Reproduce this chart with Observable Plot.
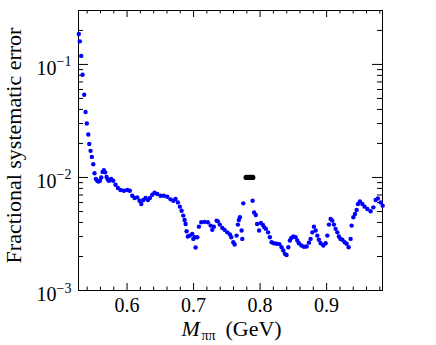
<!DOCTYPE html>
<html><head><meta charset="utf-8">
<script src="https://cdn.jsdelivr.net/npm/d3@7"></script>
<script src="https://cdn.jsdelivr.net/npm/@observablehq/plot@0.6"></script>
<style>body{margin:0;background:#fff}</style>
</head><body><div id="chart"></div>
<script>
const mass = [0.5275,0.5290,0.5311,0.5331,0.5356,0.5376,0.5395,0.5417,0.5432,0.5451,
0.5471,0.5492,0.5511,0.5531,0.5552,0.5571,0.5591,0.5612,0.5632,0.5651,
0.5672,0.5692,0.5710,0.5726,0.5744,0.5762,0.5792,0.5827,0.5862,0.5902,
0.5952,0.6003,0.6042,0.6078,0.6113,0.6153,0.6188,0.6214,0.6244,0.6278,
0.6313,0.6343,0.6379,0.6414,0.6454,0.6504,0.6553,0.6605,0.6654,0.6695,
0.6729,0.6764,0.6794,0.6820,0.6845,0.6865,0.6880,0.6895,0.6914,0.6944,
0.6980,0.6996,0.7015,0.7030,0.7056,0.7080,0.7116,0.7165,0.7215,0.7256,
0.7281,0.7305,0.7346,0.7365,0.7395,0.7432,0.7466,0.7507,0.7546,0.7567,
0.7597,0.7617,0.7647,0.7666,0.7681,0.7696,0.7722,0.7732,0.7747,0.7887,
0.7910,0.7935,0.7955,0.7985,0.8012,0.8042,0.8063,0.8087,0.8120,0.8147,
0.8173,0.8207,0.8248,0.8289,0.8323,0.8349,0.8373,0.8398,0.8424,0.8448,
0.8469,0.8499,0.8534,0.8559,0.8583,0.8620,0.8659,0.8699,0.8734,0.8759,
0.8785,0.8809,0.8835,0.8860,0.8884,0.8910,0.8950,0.8985,0.9011,0.9035,
0.9060,0.9086,0.9110,0.9135,0.9161,0.9185,0.9208,0.9236,0.9271,0.9301,
0.9331,0.9361,0.9376,0.9402,0.9426,0.9451,0.9471,0.9501,0.9537,0.9571,
0.9612,0.9662,0.9702,0.9737,0.9771,0.9812,0.9842];
const err = [0.186,0.160,0.119,0.081,0.054,0.038,0.030,0.024,0.0198,0.0172,
0.0152,0.0131,0.0109,0.0097,0.00935,0.0092,0.00935,0.0100,0.0112,0.0116,
0.0111,0.0101,0.0096,0.00935,0.0095,0.0097,0.00935,0.00862,0.00806,0.00774,
0.00763,0.00774,0.00763,0.00690,0.00658,0.00667,0.00623,0.00582,0.00632,0.00658,
0.00632,0.00658,0.00704,0.00733,0.00714,0.00690,0.00690,0.00676,0.00640,0.00623,
0.00645,0.00602,0.00552,0.00508,0.00460,0.00421,0.00388,0.00334,0.00300,0.00306,
0.00317,0.00286,0.00296,0.00240,0.00296,0.00367,0.00401,0.00405,0.00401,0.00375,
0.00344,0.00367,0.00415,0.00409,0.00383,0.00358,0.00344,0.00327,0.00313,0.00296,
0.00267,0.00255,0.00306,0.00383,0.00421,0.00444,0.00339,0.00286,0.00590,0.00623,
0.00491,0.00465,0.00388,0.00339,0.00396,0.00380,0.00362,0.00351,0.00327,0.00296,
0.00267,0.00262,0.00259,0.00257,0.00241,0.00226,0.00211,0.00206,0.00241,0.00277,
0.00292,0.00300,0.00296,0.00277,0.00262,0.00250,0.00244,0.00245,0.00265,0.00286,
0.00327,0.00367,0.00339,0.00306,0.00281,0.00262,0.00250,0.00262,0.00306,0.00383,
0.00430,0.00415,0.00383,0.00351,0.00327,0.00300,0.00286,0.00281,0.00267,0.00259,
0.00241,0.00286,0.00375,0.00444,0.00475,0.00516,0.00582,0.00614,0.00582,0.00552,
0.00526,0.00502,0.00544,0.00632,0.00653,0.00602,0.00563];
const omegaMass = [0.779,0.781,0.783,0.785,0.787,0.789];
const omegaErr = [0.01,0.01,0.01,0.01,0.01,0.01];

const xMajor = [0.6,0.7,0.8,0.9];
const xTickLabels = ["0.6","0.7","0.8","0.9"];
const xMinor = [0.54,0.56,0.58,0.62,0.64,0.66,0.68,0.72,0.74,0.76,0.78,0.82,0.84,0.86,0.88,0.92,0.94,0.96,0.98];
const yMajor = [0.001,0.01,0.1];
const yExp = ["\u22123","\u22122","\u22121"];
const yMinor = [0.002,0.003,0.004,0.005,0.006,0.007,0.008,0.009,
                0.02,0.03,0.04,0.05,0.06,0.07,0.08,0.09,0.2];

const W=436,H=345,mL=78,mR=54,mT=10,mB=55;
const fw=W-mL-mR, fh=H-mT-mB;
const points = mass.map((m,i)=>({m, e: err[i]}));
const omega = omegaMass.map((m,i)=>({m, e: omegaErr[i]}));
const font = "'Liberation Serif','Times New Roman',serif";

const chart = Plot.plot({
  width:W, height:H, marginLeft:mL, marginRight:mR, marginTop:mT, marginBottom:mB,
  style:{fontFamily:font, background:"white", overflow:"visible"},
  x:{domain:[0.527,0.984], axis:null},
  y:{type:"log", domain:[0.001,0.3], axis:null},
  marks:[
    Plot.tickX(xMajor,{x:d=>d, insetTop:fh-7, stroke:"black"}),
    Plot.tickX(xMinor,{x:d=>d, insetTop:fh-3.5, stroke:"black"}),
    Plot.tickX(xMajor,{x:d=>d, insetBottom:fh-7, stroke:"black"}),
    Plot.tickX(xMinor,{x:d=>d, insetBottom:fh-3.5, stroke:"black"}),
    Plot.tickY(yMajor,{y:d=>d, insetRight:fw-10, stroke:"black"}),
    Plot.tickY(yMinor,{y:d=>d, insetRight:fw-5, stroke:"black"}),
    Plot.tickY(yMajor,{y:d=>d, insetLeft:fw-10, stroke:"black"}),
    Plot.tickY(yMinor,{y:d=>d, insetLeft:fw-5, stroke:"black"}),
    Plot.frame({stroke:"black", strokeWidth:1}),
    Plot.dot(points,{x:"m", y:"e", r:2.2, fill:"#0000ff", stroke:"none"}),
    Plot.dot(omega,{x:"m", y:"e", r:2.6, fill:"black", stroke:"none"}),
    Plot.text(xMajor,{x:d=>d, frameAnchor:"bottom", text:(d,i)=>xTickLabels[i], lineAnchor:"top", dy:7, fontSize:20, fill:"black"}),
    Plot.text(yMajor,{y:d=>d, frameAnchor:"left", text:()=>"10", textAnchor:"end", lineAnchor:"bottom", dx:-22, dy:10.5, fontSize:20, fill:"black"}),
    Plot.text(yMajor,{y:d=>d, frameAnchor:"left", text:(d,i)=>yExp[i], textAnchor:"start", lineAnchor:"bottom", dx:-22, dy:2, fontSize:14, fill:"black"}),
    Plot.text(["M"],{frameAnchor:"bottom", text:d=>d, textAnchor:"start", lineAnchor:"bottom", dx:-49, dy:45, fontSize:22, fontStyle:"italic", fill:"black"}),
    Plot.text(["\u03C0\u03C0"],{frameAnchor:"bottom", text:d=>d, textAnchor:"start", lineAnchor:"bottom", dx:-29, dy:49, fontSize:14, fill:"black"}),
    Plot.text(["(GeV)"],{frameAnchor:"bottom", text:d=>d, textAnchor:"start", lineAnchor:"bottom", dx:-5, dy:45, fontSize:22, fill:"black"}),
    Plot.text(["Fractional systematic error"],{frameAnchor:"left", text:d=>d, rotate:-90, textAnchor:"middle", lineAnchor:"bottom", dx:-58, dy:-5, fontSize:22, fill:"black"})
  ]
});
document.getElementById("chart").appendChild(chart);
</script>
</body></html>
